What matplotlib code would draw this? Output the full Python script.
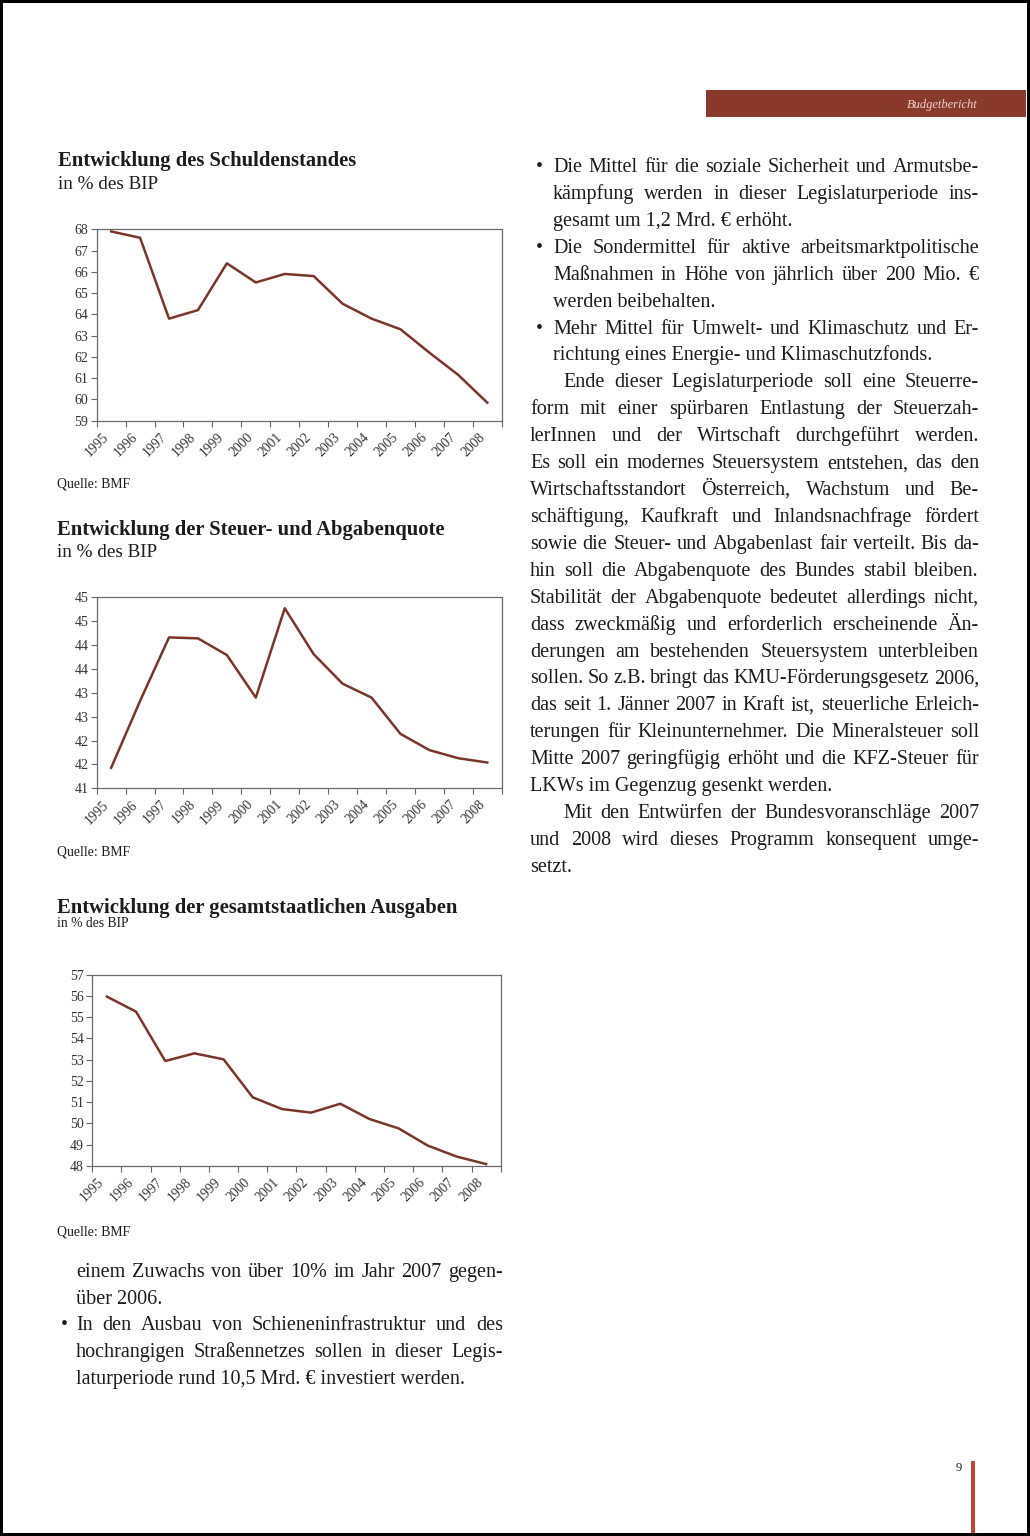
import matplotlib
matplotlib.use("Agg")
import matplotlib.pyplot as plt
from matplotlib.patches import Rectangle

# ---------------- data ----------------
years = ['1995', '1996', '1997', '1998', '1999', '2000', '2001',
         '2002', '2003', '2004', '2005', '2006', '2007', '2008']
schulden = [67.9, 67.6, 63.8, 64.2, 66.4, 65.5, 65.9, 65.8, 64.5, 63.8, 63.3, 62.2, 61.15, 59.85]
abgaben = [41.43, 42.83, 44.16, 44.14, 43.79, 42.90, 44.77, 43.81, 43.19, 42.90, 42.14, 41.80, 41.63, 41.54]
ausgaben = [55.97, 55.26, 52.94, 53.30, 53.02, 51.23, 50.68, 50.51, 50.93, 50.21, 49.77, 48.96, 48.44, 48.09]

schulden_yticks = [59, 60, 61, 62, 63, 64, 65, 66, 67, 68]
abgaben_yticks = [41, 41.5, 42, 42.5, 43, 43.5, 44, 44.5, 45]
abgaben_yticklabels = ['41', '42', '42', '43', '43', '44', '44', '45', '45']
ausgaben_yticks = [48, 49, 50, 51, 52, 53, 54, 55, 56, 57]

titles = ['Entwicklung des Schuldenstandes',
          'Entwicklung der Steuer- und Abgabenquote',
          'Entwicklung der gesamtstaatlichen Ausgaben']
subtitle = 'in % des BIP'
source = 'Quelle: BMF'

right_lines = [
    ("b", "Die Mittel für die soziale Sicherheit und Armutsbe-", True),
    ("i", "kämpfung werden in dieser Legislaturperiode ins-", True),
    ("i", "gesamt um 1,2 Mrd. € erhöht.", False),
    ("b", "Die Sondermittel für aktive arbeitsmarktpolitische", True),
    ("i", "Maßnahmen in Höhe von jährlich über 200 Mio. €", True),
    ("i", "werden beibehalten.", False),
    ("b", "Mehr Mittel für Umwelt- und Klimaschutz und Er-", True),
    ("i", "richtung eines Energie- und Klimaschutzfonds.", False),
    ("p", "Ende dieser Legislaturperiode soll eine Steuerre-", True),
    ("n", "form mit einer spürbaren Entlastung der Steuerzah-", True),
    ("n", "lerInnen und der Wirtschaft durchgeführt werden.", True),
    ("n", "Es soll ein modernes Steuersystem entstehen, das den", True),
    ("n", "Wirtschaftsstandort Österreich, Wachstum und Be-", True),
    ("n", "schäftigung, Kaufkraft und Inlandsnachfrage fördert", True),
    ("n", "sowie die Steuer- und Abgabenlast fair verteilt. Bis da-", True),
    ("n", "hin soll die Abgabenquote des Bundes stabil bleiben.", True),
    ("n", "Stabilität der Abgabenquote bedeutet allerdings nicht,", True),
    ("n", "dass zweckmäßig und erforderlich erscheinende Än-", True),
    ("n", "derungen am bestehenden Steuersystem unterbleiben", True),
    ("n", "sollen. So z.B. bringt das KMU-Förderungsgesetz 2006,", True),
    ("n", "das seit 1. Jänner 2007 in Kraft ist, steuerliche Erleich-", True),
    ("n", "terungen für Kleinunternehmer. Die Mineralsteuer soll", True),
    ("n", "Mitte 2007 geringfügig erhöht und die KFZ-Steuer für", True),
    ("n", "LKWs im Gegenzug gesenkt werden.", False),
    ("p", "Mit den Entwürfen der Bundesvoranschläge 2007", True),
    ("n", "und 2008 wird dieses Programm konsequent umge-", True),
    ("n", "setzt.", False),
]

left_lines = [
    ("i", "einem Zuwachs von über 10% im Jahr 2007 gegen-", True),
    ("i", "über 2006.", False),
    ("b", "In den Ausbau von Schieneninfrastruktur und des", True),
    ("i", "hochrangigen Straßennetzes sollen in dieser Legis-", True),
    ("i", "laturperiode rund 10,5 Mrd. € investiert werden.", False),
]

# ---------------- page ----------------
W, H = 1030, 1536
SERIF = ['Liberation Serif', 'DejaVu Serif']
LINE_COLOR = '#7a3528'
TEXT_COLOR = '#1c1c1c'

fig = plt.figure(figsize=(W / 100, H / 100), dpi=100)
fig.patch.set_facecolor('black')
fig.patches.append(Rectangle((3 / W, 3 / H), (W - 6) / W, (H - 6) / H,
                             transform=fig.transFigure, facecolor='white',
                             edgecolor='none', zorder=-10))


def fx(x):
    return x / W


def fy(y):
    return 1 - y / H


# header bar
fig.patches.append(Rectangle((fx(706), fy(117)), (1026 - 706) / W, 27 / H,
                             transform=fig.transFigure, facecolor='#8a3a2a',
                             edgecolor='none', zorder=-5))
fig.text(fx(978), fy(108), 'Budgetbericht', ha='right', va='baseline',
         family=SERIF, style='italic', fontsize=9, color='#ecd2c6')

# page number and red bar
fig.patches.append(Rectangle((fx(970.5), fy(1533)), 4.5 / W, (1533 - 1461) / H,
                             transform=fig.transFigure, facecolor='#c0472e',
                             edgecolor='none', zorder=-5))
fig.text(fx(962), fy(1471), '9', ha='right', va='baseline', family=SERIF,
         fontsize=9, color=TEXT_COLOR)

renderer = fig.canvas.get_renderer()
BODY_SIZE = 14.5


def draw_lines(lines, x_left, x_right, y0, step, bullet_x, text_x, indent_x):
    for i, (kind, txt, justify) in enumerate(lines):
        y = y0 + i * step
        if kind == 'b':
            fig.text(fx(bullet_x), fy(y), '•', ha='left', va='baseline',
                     family=SERIF, fontsize=BODY_SIZE, color=TEXT_COLOR)
            xs = text_x
        elif kind == 'i':
            xs = text_x
        elif kind == 'p':
            xs = indent_x
        else:
            xs = x_left
        if not justify:
            fig.text(fx(xs), fy(y), txt, ha='left', va='baseline',
                     family=SERIF, fontsize=BODY_SIZE, color=TEXT_COLOR)
            continue
        words = txt.split(' ')
        objs = [fig.text(0, fy(y), w, ha='left', va='baseline', family=SERIF,
                         fontsize=BODY_SIZE, color=TEXT_COLOR) for w in words]
        widths = [o.get_window_extent(renderer).width for o in objs]
        gap = (x_right - xs - sum(widths)) / max(len(words) - 1, 1)
        cur = xs
        for o, wd in zip(objs, widths):
            o.set_x(fx(cur))
            cur += wd + gap


draw_lines(right_lines, 530, 979, 172, 26.92, 536, 553, 563)
draw_lines(left_lines, 58, 503, 1277, 26.7, 61, 76, 90)


# ---------------- charts ----------------
def make_chart(box, values, yticks, yticklabels):
    left, top, right, bottom = box
    ax = fig.add_axes([fx(left), fy(bottom), (right - left) / W, (bottom - top) / H])
    x = [i + 0.5 for i in range(len(years))]
    ax.plot(x, values, color=LINE_COLOR, lw=1.8, solid_joinstyle='round')
    ax.set_xlim(0, len(years))
    ax.set_ylim(yticks[0], yticks[-1])
    ax.set_yticks(yticks)
    ax.set_yticklabels(yticklabels, family=SERIF, fontsize=10, color='#333333')
    ax.set_xticks(range(len(years) + 1))
    ax.set_xticklabels([])
    ax.set_xticks(x, minor=True)
    ax.set_xticklabels(years, minor=True, rotation=45, ha='right',
                       rotation_mode='default',
                       family=SERIF, fontsize=9.8, color='#333333')
    ax.tick_params(axis='x', which='minor', length=0, pad=7)
    ax.tick_params(axis='x', which='major', length=4, width=0.8,
                   color='#666666', direction='out')
    ax.tick_params(axis='y', length=4, width=0.8, color='#666666',
                   direction='out', pad=2)
    for s in ax.spines.values():
        s.set_color('#6a6a6a')
        s.set_linewidth(0.9)
    ax.set_facecolor('white')
    return ax


charts = [
    ((96.7, 229.3, 501.7, 420.7), schulden, schulden_yticks,
     [str(v) for v in schulden_yticks], 166, 58, 189, 13.8, 488),
    ((96.7, 597.3, 501.7, 788.3), abgaben, abgaben_yticks,
     abgaben_yticklabels, 535, 57, 557, 13.8, 856),
    ((92.3, 974.7, 500.7, 1166.0), ausgaben, ausgaben_yticks,
     [str(v) for v in ausgaben_yticks], 913, 57, 927, 9.8, 1235),
]

for (box, vals, yt, ytl, ty, tx, sy, ss, sry), title in zip(charts, titles):
    make_chart(box, vals, yt, ytl)
    fig.text(fx(tx), fy(ty), title, ha='left', va='baseline', family=SERIF,
             fontweight='bold', fontsize=14.9, color=TEXT_COLOR)
    fig.text(fx(tx), fy(sy), subtitle, ha='left', va='baseline', family=SERIF,
             fontsize=ss, color=TEXT_COLOR)
    fig.text(fx(57), fy(sry), source, ha='left', va='baseline', family=SERIF,
             fontsize=9.9, color=TEXT_COLOR)

fig.savefig('out.png', dpi=100, facecolor=fig.get_facecolor())
